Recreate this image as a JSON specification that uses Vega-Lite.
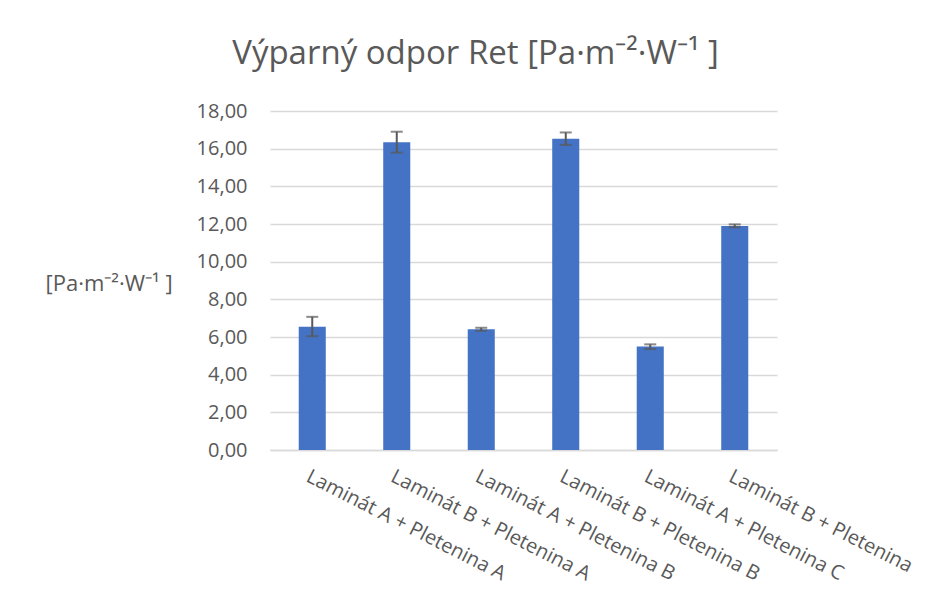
{
  "$schema": "https://vega.github.io/schema/vega-lite/v6.json",
  "autosize": "none",
  "width": 507,
  "height": 339,
  "padding": {"left": 270, "top": 111, "right": 153, "bottom": 148},
  "background": "white",
  "config": {
    "locale": {"number": {"decimal": ",", "thousands": " ", "grouping": [3], "currency": ["", " €"]}},
    "font": "Open Sans",
    "view": {"stroke": null},
    "axisX": {
      "title": null,
      "labelAngle": 27,
      "labelAlign": "left",
      "labelBaseline": "top",
      "labelFontSize": 20,
      "labelColor": "#595959",
      "labelPadding": 16,
      "labelLimit": 400,
      "ticks": false,
      "domainColor": "#d9d9d9",
      "domainWidth": 1.5
    },
    "axisY": {
      "values": [0, 2, 4, 6, 8, 10, 12, 14, 16, 18],
      "format": ".2f",
      "labelOverlap": false,
      "titleAngle": 0,
      "titleAlign": "left",
      "titleBaseline": "middle",
      "titleX": -225,
      "titleY": 172,
      "titleFontSize": 22,
      "titleFontWeight": "normal",
      "titleColor": "#595959",
      "labelFontSize": 20,
      "labelColor": "#595959",
      "labelPadding": 23,
      "ticks": false,
      "domain": false,
      "gridColor": "#d9d9d9",
      "gridWidth": 1.5
    }
  },
  "title": {
    "text": "Výparný odpor Ret [Pa·m⁻²·W⁻¹ ]",
    "fontSize": 33,
    "fontWeight": "normal",
    "color": "#595959",
    "anchor": "middle",
    "dx": -48,
    "offset": 30
  },
  "data": {
    "values": [
      {"vzorek": "Laminát A + Pletenina A", "ret": 6.55, "lo": 6.04, "hi": 7.07},
      {"vzorek": "Laminát B + Pletenina A", "ret": 16.34, "lo": 15.79, "hi": 16.9},
      {"vzorek": "Laminát A + Pletenina B", "ret": 6.41, "lo": 6.33, "hi": 6.49},
      {"vzorek": "Laminát B + Pletenina B", "ret": 16.52, "lo": 16.2, "hi": 16.86},
      {"vzorek": "Laminát A + Pletenina C", "ret": 5.49, "lo": 5.36, "hi": 5.61},
      {"vzorek": "Laminát B + Pletenina", "ret": 11.9, "lo": 11.82, "hi": 11.98}
    ]
  },
  "encoding": {
    "x": {
      "field": "vzorek",
      "type": "nominal",
      "sort": null,
      "title": null,
      "scale": {"paddingInner": 0.68, "paddingOuter": 0.34}
    }
  },
  "layer": [
    {
      "mark": {"type": "bar", "color": "#4472C4"},
      "encoding": {
        "y": {
          "field": "ret",
          "type": "quantitative",
          "title": "[Pa·m⁻²·W⁻¹ ]",
          "scale": {"domain": [0, 18]}
        }
      }
    },
    {
      "mark": {"type": "errorbar", "ticks": {"size": 12, "thickness": 2, "color": "#595959"}, "rule": {"strokeWidth": 2, "color": "#595959"}},
      "encoding": {
        "y": {"field": "lo", "type": "quantitative", "title": "[Pa·m⁻²·W⁻¹ ]"},
        "y2": {"field": "hi"}
      }
    }
  ]
}
